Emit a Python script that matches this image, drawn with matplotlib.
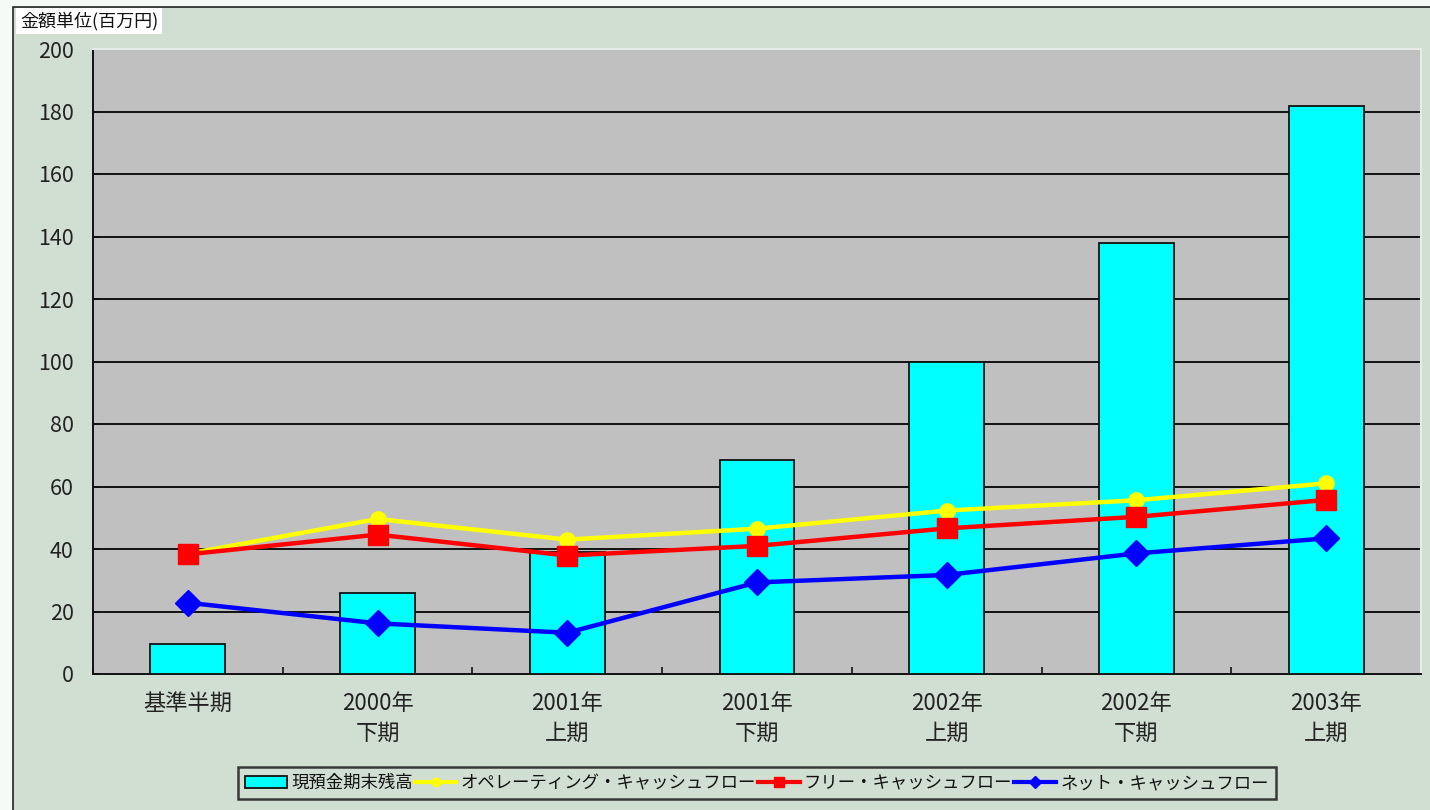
import matplotlib
matplotlib.use("Agg")
import matplotlib.pyplot as plt
from matplotlib.patches import Rectangle, Patch
from matplotlib.lines import Line2D
import numpy as np

plt.rcParams['font.family'] = ['Noto Sans CJK JP', 'DejaVu Sans']

# ---- data (百万円) ----
categories = ['基準半期', '2000年\n下期', '2001年\n上期', '2001年\n下期',
              '2002年\n上期', '2002年\n下期', '2003年\n上期']
cash_balance = [9.7, 26.0, 39.0, 68.5, 100.0, 138.0, 181.8]
operating_cf = [38.5, 49.6, 43.0, 46.5, 52.3, 55.6, 61.0]
free_cf = [38.3, 44.6, 37.9, 41.0, 46.6, 50.3, 55.7]
net_cf = [22.8, 16.2, 13.2, 29.3, 31.7, 38.6, 43.4]
y_ticks = [0, 20, 40, 60, 80, 100, 120, 140, 160, 180, 200]

series_names = ['現預金期末残高', 'オペレーティング・キャッシュフロー',
                'フリー・キャッシュフロー', 'ネット・キャッシュフロー']
unit_label = '金額単位(百万円)'

# ---- styling ----
chart_bg = '#D1DFD2'
plot_bg = '#C0C0C0'
text_col = '#222222'

fig = plt.figure(figsize=(14.3, 8.1), dpi=100, facecolor='#F6FAF6')

# chart area frame (behind everything)
frame = Rectangle((13 / 1430, -0.05), 1.2, (810 - 7) / 810 + 0.05,
                  transform=fig.transFigure, facecolor=chart_bg,
                  edgecolor='#222222', linewidth=1.2, zorder=-10)
fig.patches.append(frame)

ax = fig.add_axes([93 / 1430, (810 - 674) / 810,
                   (1421 - 93) / 1430, (674 - 49) / 810])
ax.set_zorder(1)
ax.set_facecolor(plot_bg)

x = np.arange(len(categories))
ax.bar(x, cash_balance, width=0.395, color='#00FFFF', edgecolor='#111111',
       linewidth=1.3, zorder=3)
ax.plot(x, operating_cf, color='#FFFF00', lw=3.2, marker='o', ms=11,
        zorder=4, solid_joinstyle='miter')
ax.plot(x, free_cf, color='#FF0000', lw=3.2, marker='s', ms=14,
        zorder=5, solid_joinstyle='miter')
ax.plot(x, net_cf, color='#0000FF', lw=3.2, marker='D', ms=13,
        zorder=6, solid_joinstyle='miter')

ax.set_xlim(-0.5, len(categories) - 0.5)
ax.set_ylim(0, 200)
ax.set_yticks(y_ticks)
for t in y_ticks[1:-1]:
    ax.axhline(t, color='#111111', lw=1.4, zorder=1)

ax.set_xticks(x)
ax.set_xticklabels(categories, fontsize=16, color=text_col, linespacing=1.4)
ax.set_xticks(np.arange(len(categories) + 1) - 0.5, minor=True)
ax.tick_params(axis='x', which='major', length=0, pad=13)
ax.tick_params(axis='x', which='minor', direction='in', length=5,
               width=1.2, color='#111111')
ax.tick_params(axis='y', direction='in', length=5, width=1.2,
               color='#111111', labelsize=15.5, labelcolor=text_col, pad=14)

for side in ('top', 'right'):
    ax.spines[side].set_color('#E8ECE8')
    ax.spines[side].set_linewidth(1.5)
for side in ('left', 'bottom'):
    ax.spines[side].set_color('#111111')
    ax.spines[side].set_linewidth(1.4)

# unit label box
fig.text(20 / 1430, 1 - 21 / 810, unit_label, fontsize=13, color='#111111',
         ha='left', va='center',
         bbox=dict(boxstyle='square,pad=0.2', facecolor='white',
                   edgecolor='none'))

# legend
handles = [
    Patch(facecolor='#00FFFF', edgecolor='#111111', linewidth=1.3),
    Line2D([], [], color='#FFFF00', lw=3, marker='o', ms=6),
    Line2D([], [], color='#FF0000', lw=3, marker='s', ms=7),
    Line2D([], [], color='#0000FF', lw=3, marker='D', ms=6),
]
leg = fig.legend(handles, series_names, loc='center', ncol=4,
                 bbox_to_anchor=(757 / 1430, 1 - 783 / 810),
                 fontsize=12.5, frameon=True, fancybox=False,
                 handlelength=2.4, handletextpad=0.25, columnspacing=0.1,
                 borderpad=0.4, borderaxespad=0)
leg.get_frame().set_facecolor(chart_bg)
leg.get_frame().set_edgecolor('#111111')
leg.get_frame().set_linewidth(1.8)
for t in leg.get_texts():
    t.set_color('#111111')

fig.savefig('out.png', dpi=100, facecolor=fig.get_facecolor())
